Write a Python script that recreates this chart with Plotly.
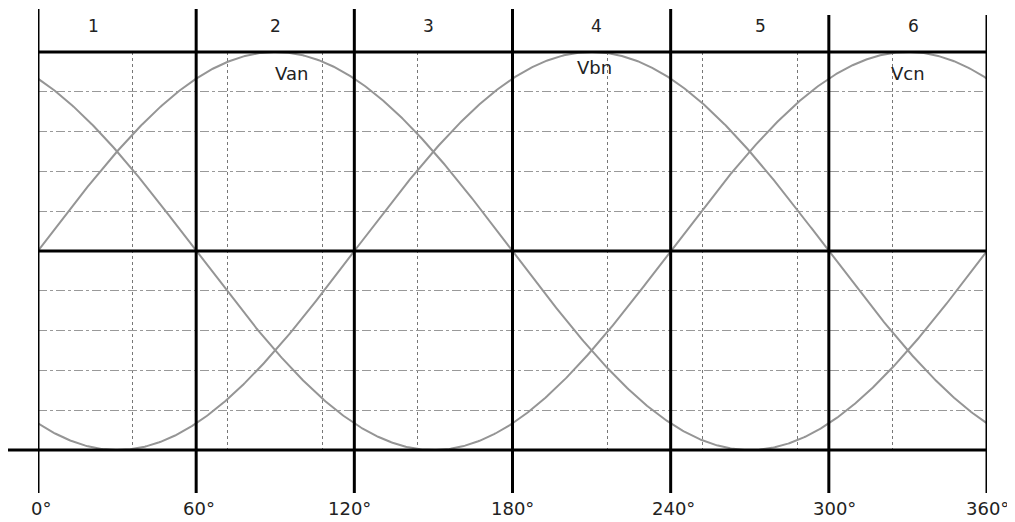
import numpy as np
import plotly.graph_objects as go

# sector boundaries (degrees) and labels
sector_bounds = [0, 60, 120, 180, 240, 300, 360]
sector_labels = ["1", "2", "3", "4", "5", "6"]
sector_label_x = [21, 90, 148, 212, 274, 332]
tick_labels = ["0°", "60°", "120°", "180°", "240°", "300°", "360°"]
tick_label_x = [1, 61, 118, 180, 241, 302, 360]

# phase voltages
phase_names = ["Van", "Vbn", "Vcn"]
phase_shift = [0, 120, 240]
amplitude = 1.0
phase_label_x = [96, 211, 330]
phase_label_y = [0.89, 0.92, 0.89]

theta = np.linspace(0, 360, 721)

fig = go.Figure()
for name, shift in zip(phase_names, phase_shift):
    fig.add_trace(go.Scatter(
        x=theta, y=amplitude * np.sin(np.radians(theta - shift)),
        mode="lines", name=name,
        line=dict(color="#959595", width=2),
        showlegend=False, hoverinfo="skip"
    ))

shapes = []
# thick vertical sector lines extending past the plot
for b in sector_bounds:
    top = 1.108 if b < 300 else 1.093
    shapes.append(dict(type="line", xref="x", yref="paper", x0=b, x1=b, y0=-0.108, y1=top,
                       line=dict(color="black", width=3)))
# thick horizontal lines: top edge, zero axis, bottom edge (bottom runs further left)
shapes.append(dict(type="line", xref="x", yref="paper", x0=0, x1=360, y0=1, y1=1,
                   line=dict(color="black", width=3)))
shapes.append(dict(type="line", xref="x", yref="y", x0=0, x1=360, y0=0, y1=0,
                   line=dict(color="black", width=3)))
shapes.append(dict(type="line", xref="paper", yref="paper", x0=-0.033, x1=1, y0=0, y1=0,
                   line=dict(color="black", width=3)))

annotations = []
for lab, xv in zip(sector_labels, sector_label_x):
    annotations.append(dict(x=xv, y=1.065, xref="x", yref="paper", text=lab, showarrow=False,
                            yanchor="middle", font=dict(size=17, color="#222")))
for lab, xv, yv in zip(phase_names, phase_label_x, phase_label_y):
    annotations.append(dict(x=xv, y=yv, xref="x", yref="y", text=lab, showarrow=False,
                            yanchor="middle", font=dict(size=18, color="#222")))
for lab, xv in zip(tick_labels, tick_label_x):
    annotations.append(dict(x=xv, y=-0.146, xref="x", yref="paper", text=lab, showarrow=False,
                            yanchor="middle", font=dict(size=18, color="#222")))

# page body has an 8px margin, so the figure is offset to land on the window
fig.update_layout(
    width=1007, height=514,
    margin=dict(l=30, r=28, t=44, b=72),
    plot_bgcolor="white", paper_bgcolor="white",
    font=dict(family="DejaVu Sans", color="#222"),
    shapes=shapes, annotations=annotations,
    xaxis=dict(range=[0, 360], dtick=36, tick0=0, showgrid=True, gridcolor="#777",
               griddash="dot", gridwidth=1, showticklabels=False, zeroline=False,
               showline=False),
    yaxis=dict(range=[-1, 1], dtick=0.2, tick0=0, showgrid=True, gridcolor="#999",
               griddash="dashdot", gridwidth=1, showticklabels=False, zeroline=False,
               showline=False),
)

fig.write_html("out.html")
